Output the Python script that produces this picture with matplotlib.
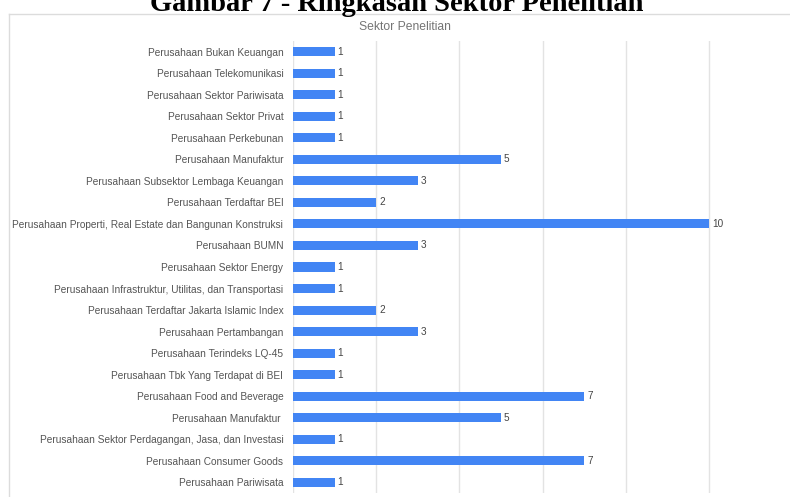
import matplotlib.pyplot as plt
from matplotlib.lines import Line2D

sektor = [
    'Perusahaan Bukan Keuangan',
    'Perusahaan Telekomunikasi',
    'Perusahaan Sektor Pariwisata',
    'Perusahaan Sektor Privat',
    'Perusahaan Perkebunan',
    'Perusahaan Manufaktur',
    'Perusahaan Subsektor Lembaga Keuangan',
    'Perusahaan Terdaftar BEI',
    'Perusahaan Properti, Real Estate dan Bangunan Konstruksi',
    'Perusahaan BUMN',
    'Perusahaan Sektor Energy',
    'Perusahaan Infrastruktur, Utilitas, dan Transportasi',
    'Perusahaan Terdaftar Jakarta Islamic Index',
    'Perusahaan Pertambangan',
    'Perusahaan Terindeks LQ-45',
    'Perusahaan Tbk Yang Terdapat di BEI',
    'Perusahaan Food and Beverage',
    'Perusahaan Manufaktur ',
    'Perusahaan Sektor Perdagangan, Jasa, dan Investasi',
    'Perusahaan Consumer Goods',
    'Perusahaan Pariwisata',
]
jumlah = [1, 1, 1, 1, 1, 5, 3, 2, 10, 3, 1, 1, 2, 3, 1, 1, 7, 5, 1, 7, 1]
x_ticks = [0, 2, 4, 6, 8, 10]

W, H = 790, 497
fig = plt.figure(figsize=(W / 100, H / 100), dpi=100)
plt.rcParams['font.family'] = ['Liberation Sans', 'DejaVu Sans']

# figure caption (cut off at the top in the reference)
fig.text(397 / W, 1 - 11 / H, 'Gambar 7 - Ringkasan Sektor Penelitian', ha='center', va='baseline',
         fontsize=20.5, fontweight='bold', family='Liberation Serif', color='black')

# chart frame
fig.add_artist(Line2D([9 / W, 1], [1 - 14 / H, 1 - 14 / H], color='#dcdcdc', lw=1))
fig.add_artist(Line2D([9 / W, 9 / W], [0, 1 - 14 / H], color='#dcdcdc', lw=1))

fig.text(405 / W, 1 - 27 / H, 'Sektor Penelitian', ha='center', va='center',
         fontsize=8.7, color='#757575')

left, right = 293 / W, 1.0
top, bottom = 1 - 41 / H, 1 - 493 / H
ax = fig.add_axes([left, bottom, right - left, top - bottom])

pos = list(range(len(sektor)))
ax.barh(pos, jumlah, height=0.42, color='#4285f4', zorder=3)
for p, v in zip(pos, jumlah):
    ax.text(v + 0.07, p, str(v), va='center', ha='left', fontsize=7.2, color='#444444')

ax.set_xlim(0, (W - 293) / 41.6)
ax.set_ylim(len(sektor) - 0.5, -0.5)
ax.set_xticks(x_ticks)
ax.set_xticklabels([])
ax.set_yticks(pos)
ax.set_yticklabels(sektor, fontsize=7.3, color='#555555')
ax.tick_params(axis='y', length=0, pad=7)
ax.tick_params(axis='x', length=0)
ax.grid(axis='x', color='#e3e3e3', lw=1, zorder=0)
for s in ax.spines.values():
    s.set_visible(False)

fig.savefig('out.png', dpi=100)
